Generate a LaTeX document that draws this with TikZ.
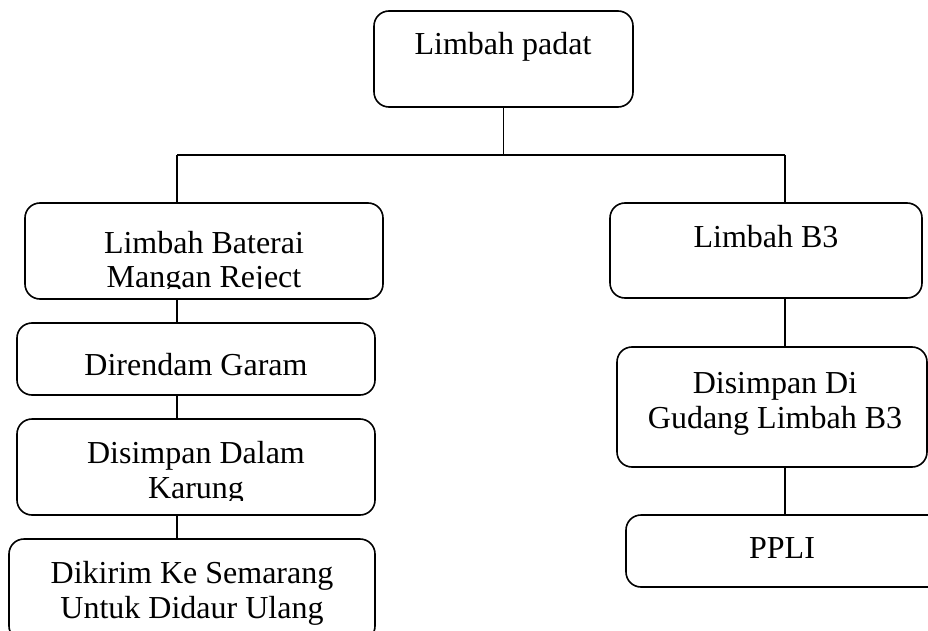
\documentclass[tikz,border=0pt]{standalone}
\usepackage{fontspec}
\setmainfont{Liberation Serif}
\begin{document}
\begin{tikzpicture}[x=1pt,y=-1pt,
  box/.style={draw, line width=1.6pt, rounded corners=15pt, inner sep=0pt},
  lbl/.style={anchor=base, inner sep=0pt, font=\fontsize{32}{36}\selectfont},
  conn/.style={line width=1.6pt}]
\useasboundingbox (0,0) rectangle (928,631);
\clip (0,0) rectangle (928,631);
% boxes
\node[box, minimum width=259pt, minimum height=96pt] (lp) at (503.5,59) {};
\node[box, minimum width=358pt, minimum height=96pt] (lbm) at (204,251) {};
\node[box, minimum width=358pt, minimum height=72pt] (dg) at (196,359) {};
\node[box, minimum width=358pt, minimum height=96pt] (ddk) at (196,467) {};
\node[box, minimum width=366pt, minimum height=102pt] (dks) at (192,590) {};
\node[box, minimum width=312pt, minimum height=95pt] (lb3) at (766,250.5) {};
\node[box, minimum width=310pt, minimum height=120pt] (dgl) at (772,407) {};
\node[box, minimum width=318pt, minimum height=72pt] (ppli) at (785,551) {};
% connectors
\coordinate (busL) at (177,155);
\coordinate (busR) at (785,155);
\draw[conn] (lp.south) -- (lp.south |- busL);
\draw[conn] (busL) -- (busR);
\draw[conn] (busL) -- (busL |- lbm.north);
\draw[conn] (busR) -- (busR |- lb3.north);
\draw[conn] (busL |- lbm.south) -- (busL |- dg.north);
\draw[conn] (busL |- dg.south) -- (busL |- ddk.north);
\draw[conn] (busL |- ddk.south) -- (busL |- dks.north);
\draw[conn] (busR |- lb3.south) -- (busR |- dgl.north);
\draw[conn] (busR |- dgl.south) -- (busR |- ppli.north);
% texts
\node[lbl] at (503,55) {Limbah padat};
\node[lbl] at (204,253) {Limbah Baterai};
\begin{scope}
\clip (0,0) rectangle (928,288);
\node[lbl] at (204,287) {Mangan Reject};
\end{scope}
\node[lbl] at (196,375) {Direndam Garam};
\node[lbl] at (196,463) {Disimpan Dalam};
\begin{scope}
\clip (0,0) rectangle (928,500);
\node[lbl] at (196,498) {Karung};
\end{scope}
\node[lbl] at (192,583) {Dikirim Ke Semarang};
\begin{scope}
\clip (0,0) rectangle (928,624);
\node[lbl] at (192,618) {Untuk Didaur Ulang};
\end{scope}
\node[lbl] at (766,247) {Limbah B3};
\node[lbl] at (775,393) {Disimpan Di};
\node[lbl] at (775,428) {Gudang Limbah B3};
\node[lbl] at (782,558) {PPLI};
\end{tikzpicture}
\end{document}
